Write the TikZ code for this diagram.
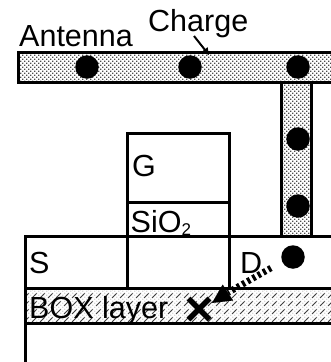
\documentclass[tikz,border=0pt]{standalone}
\usepackage{fontspec}
\setmainfont{Liberation Sans}
\usetikzlibrary{patterns,arrows.meta}
\pgfdeclarepatternformonly{antdots}{\pgfqpoint{-0.5pt}{-0.5pt}}{\pgfqpoint{4.5pt}{4.5pt}}{\pgfqpoint{4pt}{4pt}}{%
  \pgfpathrectangle{\pgfqpoint{0pt}{0pt}}{\pgfqpoint{1.3pt}{1.3pt}}%
  \pgfpathrectangle{\pgfqpoint{2pt}{2pt}}{\pgfqpoint{1.3pt}{1.3pt}}%
  \pgfusepath{fill}}
\pgfdeclarepatternformonly{boxdash}{\pgfqpoint{-1pt}{-1pt}}{\pgfqpoint{17pt}{17pt}}{\pgfqpoint{16pt}{16pt}}{%
  \pgfsetlinewidth{0.9pt}%
  \pgfpathmoveto{\pgfqpoint{0pt}{0pt}}\pgfpathlineto{\pgfqpoint{4.5pt}{4.5pt}}%
  \pgfpathmoveto{\pgfqpoint{8pt}{8pt}}\pgfpathlineto{\pgfqpoint{12.5pt}{12.5pt}}%
  \pgfpathmoveto{\pgfqpoint{8pt}{0pt}}\pgfpathlineto{\pgfqpoint{12.5pt}{4.5pt}}%
  \pgfpathmoveto{\pgfqpoint{0pt}{8pt}}\pgfpathlineto{\pgfqpoint{4.5pt}{12.5pt}}%
  \pgfusepath{stroke}}
\tikzset{
  x=1pt,y=-1pt,
  wall/.style={line width=3pt,draw=black},
  antfill/.style={pattern=antdots,pattern color=black!70},
  charge/.style={circle,fill=black,inner sep=0pt,minimum size=23.5pt},
  lbl/.style={font=\fontsize{30.5}{30.5}\selectfont,inner sep=0pt,anchor=base west},
}
\begin{document}
\begin{tikzpicture}
\useasboundingbox (0,0) rectangle (331,362);
% fills
\path[antfill] (18,52) rectangle (331,82);
\path[antfill] (282,82) rectangle (311,236);
\path[pattern=antdots,pattern color=black!15] (25,288) rectangle (331,323);
\path[pattern=boxdash,pattern color=black!75] (25,288) rectangle (331,323);
% walls
\coordinate (aTL) at (18,52); \coordinate (aTR) at (331,52);
\coordinate (aBL) at (18,82); \coordinate (aBR) at (331,82);
\draw[wall] (aTR) -- (aTL) -- (aBL) -- (aBR);
\coordinate (sT) at (281.5,82); \coordinate (sB) at (281.5,236);
\coordinate (tT) at (311.5,82); \coordinate (tB) at (311.5,236);
\draw[wall] (sT) -- (sB);
\draw[wall] (tT) -- (tB);
\coordinate (rowTR) at (331,236); \coordinate (rowTL) at (25,236);
\coordinate (pageBL) at (25,362);
\draw[wall] (rowTR) -- (rowTL) -- (pageBL);
\draw[wall] (25,288) -- (331,288);
\draw[wall] (25,323) -- (331,323);
\draw[wall] (127,288) -- (127,133) -- (229,133) -- (229,288);
\draw[wall] (127,202) -- (229,202);
% charges
\node[charge] (c1) at (87,67) {};
\node[charge] (c2) at (190,67) {};
\node[charge] (c3) at (298,67) {};
\node[charge] (c4) at (298,139) {};
\node[charge] (c5) at (298,206) {};
\node[charge] (c6) at (293,257) {};
% text
\node[lbl] (ant) at (19,46) {Antenna};
\node[lbl] (chg) at (148,31) {Charge};
\node[lbl] (g) at (132,176) {G};
\node[lbl] (sio) at (130.5,232) {SiO};
\node[inner sep=0pt,anchor=base west,font=\fontsize{17}{17}\selectfont] (two) at (181.5,235) {2};
\node[lbl] (s) at (29,273) {S};
\node[lbl] (d) at (240,273) {D};
\node[lbl] (box) at (29,318) {BOX layer};
% cross
\coordinate (xc) at (199,309);
\draw[line width=5.5pt] ([shift={(-10.5,-10.5)}]xc) -- ([shift={(10.5,10.5)}]xc);
\draw[line width=5.5pt] ([shift={(-10.5,10.5)}]xc) -- ([shift={(10.5,-10.5)}]xc);
% arrows
\coordinate (q1) at (271,268); \coordinate (q2) at (212,303);
\coordinate (q3) at (228,292.5);
\draw[line width=6.5pt,dash pattern=on 3pt off 3pt] (q1) -- (q3);
\draw[-{Triangle[length=19pt,width=19pt]},line width=0.1pt,draw=black,fill=black] (q3) -- (q2);
\coordinate (r1) at (194,36); \coordinate (r2) at (209,55);
\draw[line width=2pt,-{Triangle[length=7pt,width=7pt]}] (r1) -- (r2);
\end{tikzpicture}
\end{document}
